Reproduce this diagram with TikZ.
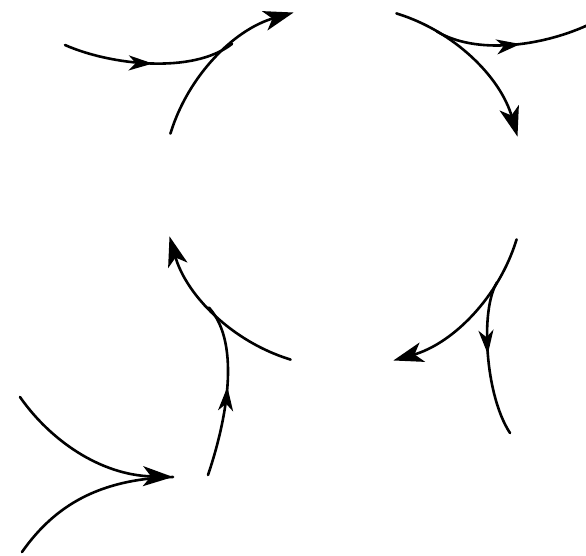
\documentclass[tikz,border=0pt]{standalone}
\usepackage{tikz}
\usetikzlibrary{arrows.meta, decorations.markings}

\begin{document}
\begin{tikzpicture}[
  x=1pt, y=1pt,
  curve/.style={line width=2.6pt, line cap=round},
  flow/.style={curve, -{Stealth[length=30pt, width=20pt, inset=8pt]}},
  midarrow/.style={curve, postaction={decorate},
    decoration={markings, mark=at position #1 with
      {\arrow{Stealth[length=24pt, width=15pt, inset=7pt]}}}},
]
\useasboundingbox (0,0) rectangle (586,555);
\coordinate (c) at (343.5,368.5);

% top left
\coordinate (tl) at ([shift={(163:181)}]c);
\coordinate (j1) at ([shift={(128:181)}]c);
\coordinate (a1) at (65,510);
\draw[flow] (tl) arc[start angle=163, end angle=106, radius=181pt];
\draw[midarrow=0.52] (a1) .. controls (110,490) and ([shift={(218:50)}]j1) .. (j1);

% top right
\coordinate (tr) at ([shift={(73:181)}]c);
\coordinate (j2) at ([shift={(59:181)}]c);
\coordinate (b2) at (588,530);
\draw[flow] (tr) arc[start angle=73, end angle=16, radius=181pt];
\draw[midarrow=0.55] (j2) .. controls ([shift={(-31:45)}]j2) and (540,508) .. (b2);

% right
\coordinate (rt) at ([shift={(-17:181)}]c);
\coordinate (j3) at ([shift={(-32:181)}]c);
\coordinate (b3) at (510,122);
\draw[flow] (rt) arc[start angle=-17, end angle=-74, radius=181pt];
\draw[midarrow=0.47] (j3) .. controls ([shift={(-122:32)}]j3) and (485,160) .. (b3);

% left
\coordinate (lt) at ([shift={(-107:181)}]c);
\coordinate (j4) at ([shift={(-138:181)}]c);
\coordinate (a4) at (208,80);
\draw[flow] (lt) arc[start angle=-107, end angle=-164, radius=181pt];
\draw[midarrow=0.52] (a4) .. controls (225,130) and ([shift={(-48:50)}]j4) .. (j4);

% bottom left
\coordinate (d1) at (20,158);
\coordinate (d2) at (22,3);
\coordinate (e) at (173,78);
\draw[flow] (d1) .. controls (50,115) and (100,80) .. (e);
\draw[curve] (d2) .. controls (55,50) and (100,76) .. (e);
\end{tikzpicture}
\end{document}
